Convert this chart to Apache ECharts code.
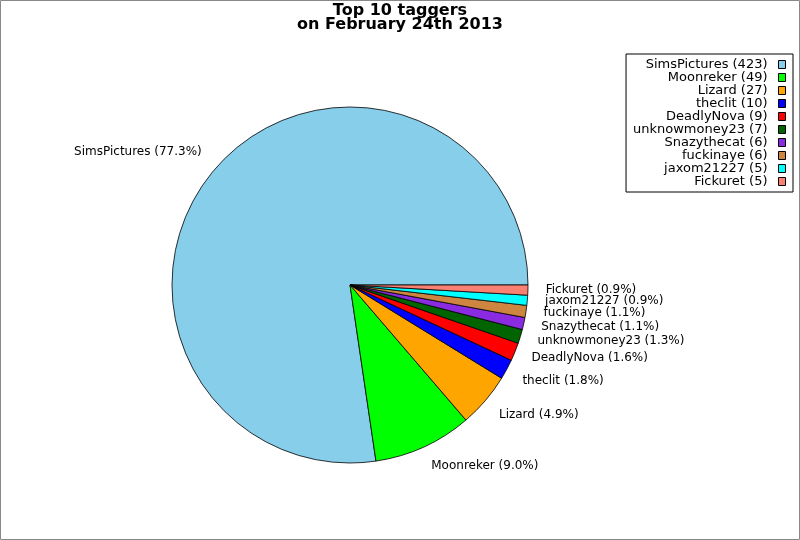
<!DOCTYPE html>
<html>
<head>
<meta charset="utf-8">
<script src="https://cdn.jsdelivr.net/npm/echarts@6/dist/echarts.min.js"></script>
<style>
html,body{margin:0;padding:0;background:#fff;}
#chart{width:800px;height:540px;}
</style>
</head>
<body>
<div id="chart"></div>
<script>
const names = ['SimsPictures','Moonreker','Lizard','theclit','DeadlyNova','unknowmoney23','Snazythecat','fuckinaye','jaxom21227','Fickuret'];
const counts = [423,49,27,10,9,7,6,6,5,5];
const colors = ['#87CEEB','#00FF00','#FFA500','#0000FF','#FF0000','#006400','#8A2BE2','#CD853F','#00FFFF','#FA8072'];
const titleText = 'Top 10 taggers\non February 24th 2013';

const total = counts.reduce((a,b)=>a+b,0);
const countByName = {};
names.forEach((n,i)=>countByName[n]=counts[i]);
// mid-angle sine of each slice (counter-clockwise from east), used for label vertical nudge
const midSin = [];
(function(){let c=0;counts.forEach(v=>{const m=(c+v/2)/total*2*Math.PI;midSin.push(Math.sin(m));c+=v;});})();
const FONT = 'DejaVu Sans';

const chart = echarts.init(document.getElementById('chart'), null, {renderer:'canvas'});
chart.setOption({
  animation:false,
  backgroundColor:'#fff',
  color: colors,
  title:{
    text:titleText,
    left:'center',
    top:4,
    padding:0,
    textStyle:{fontFamily:FONT,fontSize:16,fontWeight:'bold',color:'#000',lineHeight:14}
  },
  legend:{
    orient:'vertical',
    right:7,
    top:54,
    align:'right',
    itemWidth:7,
    itemHeight:8,
    itemGap:0,
    padding:[4,7,4,7],
    borderColor:'#000',
    borderWidth:1,
    icon:'rect',
    itemStyle:{borderColor:'#000',borderWidth:1},
    data:names,
    formatter:function(n){return n+' ('+countByName[n]+')';},
    textStyle:{fontFamily:FONT,fontSize:13,color:'#000',lineHeight:11,padding:[0,6,0,0]}
  },
  graphic:[{
    type:'rect',
    shape:{x:0.5,y:0.5,width:799,height:539},
    style:{fill:'none',stroke:'#888',lineWidth:1},
    silent:true
  }],
  series:[{
    type:'pie',
    center:[350,285],
    radius:178,
    startAngle:0,
    clockwise:false,
    avoidLabelOverlap:false,
    minShowLabelAngle:0,
    itemStyle:{borderColor:'#000',borderWidth:0.8},
    label:{
      show:true,
      position:'outside',
      fontFamily:FONT,
      fontSize:12,
      color:'#000',
      distanceToLabelLine:0,
      formatter:function(p){return p.name+' ('+(p.value/total*100).toFixed(1)+'%)';}
    },
    labelLine:{show:false,length:17.8,length2:0},
    labelLayout:function(p){
      const s = midSin[p.dataIndex];
      let dy = -1;
      if (s > 0.45) dy = -5; else if (s < -0.45) dy = 3;
      return {hideOverlap:false, moveOverlap:null, dy:dy};
    },
    emphasis:{disabled:true},
    data:names.map((n,i)=>({name:n,value:counts[i]}))
  }]
});
</script>
</body>
</html>
